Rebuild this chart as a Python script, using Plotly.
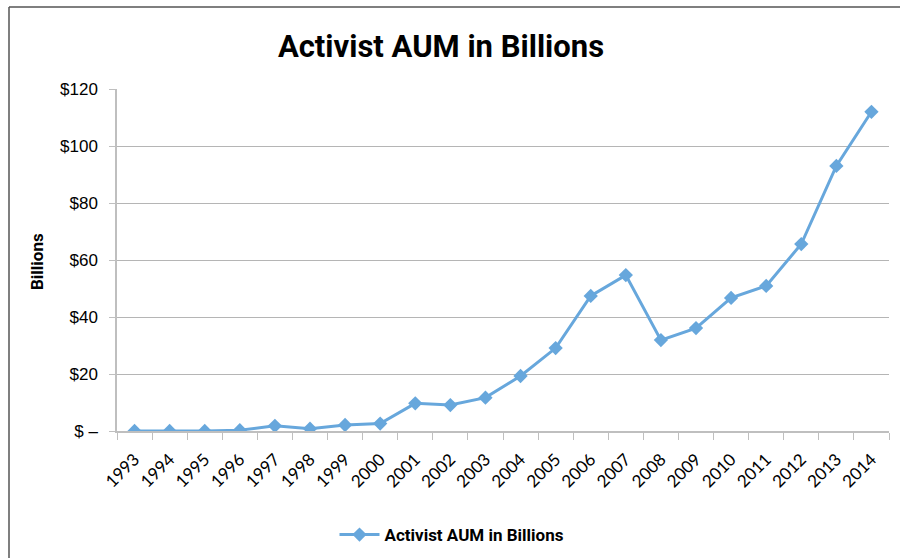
import plotly.graph_objects as go

years = [str(y) for y in range(1993, 2015)]
aum = [0.0, 0.0, 0.0, 0.3, 1.8, 0.8, 2.1, 2.6, 9.7, 9.1, 11.7,
       19.3, 29.1, 47.4, 54.7, 31.9, 36.1, 46.7, 50.9, 65.6, 93.0, 112.0]
ytick_vals = [0, 20, 40, 60, 80, 100, 120]
ytick_text = ["$ \u2013", "$20", "$40", "$60", "$80", "$100", "$120"]

BLUE = "#67A7DC"
COND = "Roboto, Liberation Sans Narrow, sans-serif"

fig = go.Figure()
fig.add_trace(go.Scatter(
    x=years, y=aum, mode="lines+markers",
    name="Activist AUM in Billions",
    line=dict(color=BLUE, width=3),
    marker=dict(symbol="diamond", size=11, color=BLUE),
))

# plot area in pixels: x 117..889, y 89..431
L, R, T, B = 117, 889, 89, 431
W, H = R - L, B - T


def px_x(p):
    return (p - L) / W


def px_y(p):
    return (B - p) / H


fig.update_layout(
    width=900, height=558,
    margin=dict(l=L, r=900 - R, t=T, b=558 - B, autoexpand=False),
    paper_bgcolor="white", plot_bgcolor="white",
    title=dict(text="<b>Activist AUM in Billions</b>", x=441 / 900, xanchor="center",
               y=1 - 46 / 558, yanchor="middle",
               font=dict(family=COND, size=31, color="black")),
    showlegend=True,
    legend=dict(orientation="h", x=px_x(452), xanchor="center", y=px_y(535), yanchor="middle",
                font=dict(family=COND, size=17, color="black", weight="bold"), itemwidth=40),
    xaxis=dict(type="category", range=[-0.5, len(years) - 0.5], tickangle=-45, tickson="boundaries",
               ticks="outside", ticklen=7, tickcolor="#BFBFBF", ticklabelstandoff=10,
               showline=True, linecolor="#BFBFBF", linewidth=1.5,
               showgrid=False, tickfont=dict(family="Lato, sans-serif", size=17, color="black")),
    yaxis=dict(range=[0, 120], tickvals=ytick_vals, ticktext=ytick_text,
               ticks="outside", ticklen=6, tickcolor="#BFBFBF", ticklabelstandoff=8,
               showline=True, linecolor="#BFBFBF", linewidth=1.5,
               showgrid=True, gridcolor="#B5B5B5", gridwidth=1.2, zeroline=False,
               tickfont=dict(family="Liberation Sans, Arial, sans-serif", size=17, color="black")),
    annotations=[dict(text="<b>Billions</b>", textangle=-90, xref="paper", yref="paper",
                      x=px_x(37), y=px_y(262), showarrow=False, xanchor="center", yanchor="middle",
                      font=dict(family=COND, size=17, color="black"))],
    shapes=[
        dict(type="line", xref="paper", yref="paper", x0=px_x(9), x1=px_x(9),
             y0=px_y(7), y1=px_y(570), line=dict(color="#555555", width=1.5)),
        dict(type="line", xref="paper", yref="paper", x0=px_x(9), x1=px_x(905),
             y0=px_y(7), y1=px_y(7), line=dict(color="#555555", width=1.5)),
    ],
)

# page body has a default 8px margin; drop it so the figure sits at the window origin
fig.write_html("out.html", config={"displayModeBar": False},
               post_script="document.body.style.margin='0';")
